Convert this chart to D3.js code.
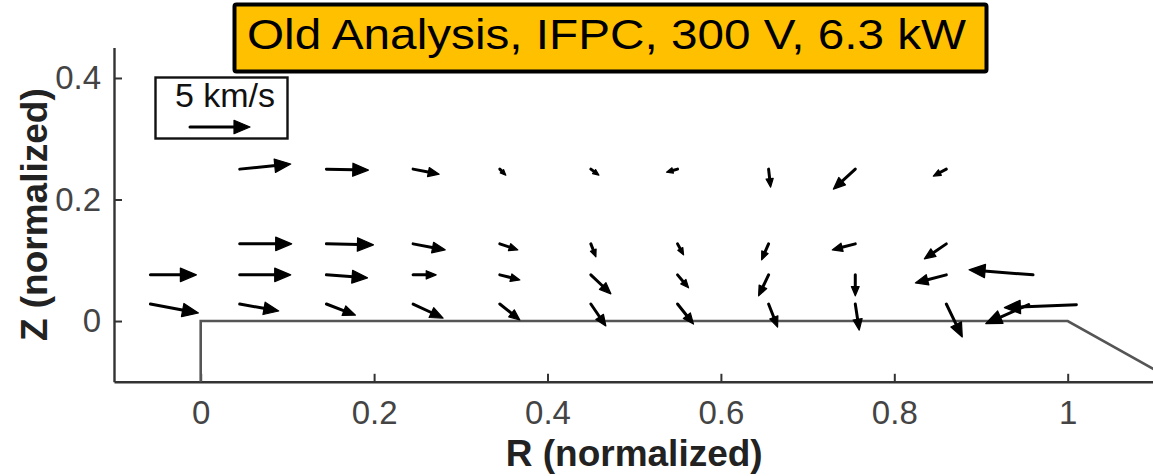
<!DOCTYPE html>
<html>
<head>
<meta charset="utf-8">
<script src="https://cdn.jsdelivr.net/npm/d3@7"></script>
<style>
  body { margin: 0; background: #fff; }
  svg { display: block; font-family: "Liberation Sans", Arial, Helvetica, sans-serif; }
  .tick text { fill: #444; }
</style>
</head>
<body>
<div class="chart"></div>
<script>
// tick values
var rTicks = [0, 0.2, 0.4, 0.6, 0.8, 1];
var zTicks = [0, 0.2, 0.4];

// arrow tails (normalized R, Z) and velocities (km/s)
var arrowR = [
    0.045, 0.145, 0.245, 0.345, 0.45, 0.55, 0.655, 0.755, 0.86,
    0.045, 0.145, 0.245, 0.345, 0.45, 0.55, 0.655, 0.755, 0.86,
    -0.058, 0.045, 0.145, 0.245, 0.345, 0.45, 0.55, 0.655, 0.755, 0.86, 0.96,
    -0.058, 0.045, 0.145, 0.245, 0.345, 0.45, 0.55, 0.655, 0.755, 0.86, 0.955, 1.01
];
var arrowZ = [
    0.25, 0.25, 0.25, 0.25, 0.25, 0.25, 0.25, 0.25, 0.25,
    0.127, 0.127, 0.127, 0.127, 0.127, 0.127, 0.127, 0.127, 0.127,
    0.076, 0.076, 0.076, 0.076, 0.076, 0.076, 0.076, 0.076, 0.076, 0.076, 0.076,
    0.028, 0.028, 0.028, 0.028, 0.028, 0.028, 0.028, 0.028, 0.028, 0.028, 0.027, 0.027
];
var arrowVr = [
    4.25, 3.5, 2.17, 0.5, 0.67, -0.92, 0.17, -1.83, -1.08,
    4.33, 3.92, 2.67, 1.5, 0.42, 0.5, -0.58, -1.92, -1.83,
    3.83, 4.25, 3.42, 1.92, 1.67, 1.67, 0.92, -0.83, 0, -2.58, -5.33,
    4.0, 3.25, 2.42, 2.5, 1.67, 1.25, 1.33, 0.75, 0.33, 1.33, -3.58, -6.0
];
var arrowVz = [
    0.42, -0.08, -0.42, -0.5, -0.5, -0.25, -1.5, -1.67, -0.58,
    0, -0.08, -0.5, -0.5, -1.08, -0.92, -1.33, -0.5, -1.25,
    0, 0, -0.25, 0, -0.42, -1.58, -1.08, -1.75, -1.75, -0.67, 0.42,
    -0.75, -0.58, -0.92, -1.17, -1.33, -1.83, -1.67, -1.92, -2.17, -2.75, -1.58, -0.25
];

// thruster wall outline (R, Z)
var wallR = [0, 0, 1, 1.1];
var wallZ = [-0.1, 0, 0, -0.08];

// reference arrow
var refSpeed = 5;

var width = 1153, height = 476;

var x = d3.scaleLinear().domain([-0.1, 1.1]).range([114, 1154.4]);
var y = d3.scaleLinear().domain([-0.1, 0.45]).range([381.8, 47.6]);
// km/s -> pixels (5 km/s = 60 px)
var v = d3.scaleLinear().domain([0, 5]).range([0, 60]);

var svg = d3.select("div.chart")
    .append("svg")
    .attr("width", width)
    .attr("height", height);

// axes
var xAxis = svg.append("g")
    .attr("transform", "translate(0," + y(-0.1) + ")")
    .call(d3.axisBottom(x).tickValues(rTicks).tickSizeInner(-8).tickSizeOuter(0).tickPadding(19)
        .tickFormat(function (d) { return d3.format("~g")(d); }));
var yAxis = svg.append("g")
    .attr("transform", "translate(" + x(-0.1) + ",0)")
    .call(d3.axisLeft(y).tickValues(zTicks).tickSizeInner(-8).tickSizeOuter(0).tickPadding(13)
        .tickFormat(function (d) { return d3.format("~g")(d); }));

[xAxis, yAxis].forEach(function (a) {
    a.selectAll("path.domain").attr("stroke", "#333").attr("stroke-width", 2.4);
    a.selectAll(".tick line").attr("stroke", "#333").attr("stroke-width", 2);
    a.selectAll(".tick text").style("font-size", "33px").style("font-family", "inherit");
});

svg.append("text")
    .attr("x", (x(-0.1) + x(1.1)) / 2)
    .attr("y", 466)
    .attr("text-anchor", "middle")
    .style("font-size", "37px")
    .style("font-weight", "bold")
    .style("fill", "#222")
    .text("R (normalized)");

svg.append("text")
    .attr("transform", "translate(47," + (y(-0.1) + y(0.45)) / 2 + ") rotate(-90)")
    .attr("text-anchor", "middle")
    .style("font-size", "37px")
    .style("font-weight", "bold")
    .style("fill", "#222")
    .text("Z (normalized)");

// wall outline
var wall = wallR.map(function (r, i) { return [r, wallZ[i]]; });
svg.append("path")
    .attr("d", d3.line().x(function (d) { return x(d[0]); }).y(function (d) { return y(d[1]); })(wall))
    .attr("fill", "none")
    .attr("stroke", "#555")
    .attr("stroke-width", 2.6);

// draw one quiver arrow from (x0,y0) with pixel vector (dx,dy)
function drawArrow(g, x0, y0, dx, dy) {
    var len = Math.sqrt(dx * dx + dy * dy);
    if (len < 0.5) return;
    var ux = dx / len, uy = dy / len;
    var hl = Math.max(5, Math.min(16, 0.3 * len + 3));
    var hw = hl * 0.42;
    var x1 = x0 + dx, y1 = y0 + dy;
    var bx = x1 - ux * hl, by = y1 - uy * hl;
    g.append("line")
        .attr("x1", x0).attr("y1", y0)
        .attr("x2", bx + ux * 1).attr("y2", by + uy * 1)
        .attr("stroke", "#000")
        .attr("stroke-width", 3)
        .attr("stroke-linecap", "round");
    g.append("path")
        .attr("d", "M" + x1 + "," + y1 +
            "L" + (bx - uy * hw) + "," + (by + ux * hw) +
            "L" + (bx + uy * hw) + "," + (by - ux * hw) + "Z")
        .attr("fill", "#000")
        .attr("stroke", "#000")
        .attr("stroke-width", 1.2)
        .attr("stroke-linejoin", "round");
}

var arrows = svg.append("g").attr("class", "arrows");
arrowR.forEach(function (r, i) {
    var dx = (arrowVr[i] < 0 ? -1 : 1) * v(Math.abs(arrowVr[i]));
    var dy = (arrowVz[i] < 0 ? 1 : -1) * v(Math.abs(arrowVz[i]));
    drawArrow(arrows, x(r), y(arrowZ[i]), dx, dy);
});

// reference legend box
var legend = svg.append("g");
legend.append("rect")
    .attr("x", 155.5).attr("y", 77.5)
    .attr("width", 132).attr("height", 61)
    .attr("fill", "#fff")
    .attr("stroke", "#111")
    .attr("stroke-width", 2.4);
legend.append("text")
    .attr("x", 225).attr("y", 107)
    .attr("text-anchor", "middle")
    .style("font-size", "34px")
    .style("fill", "#111")
    .text(refSpeed + " km/s");
drawArrow(legend, 190, 127, v(refSpeed), 0);

// title banner
var title = svg.append("g");
title.append("rect")
    .attr("x", 234.5).attr("y", 4.5)
    .attr("width", 752).attr("height", 67)
    .attr("rx", 2)
    .attr("fill", "#FFC000")
    .attr("stroke", "#000")
    .attr("stroke-width", 4);
title.append("text")
    .attr("x", 247).attr("y", 49)
    .attr("textLength", 719)
    .attr("lengthAdjust", "spacingAndGlyphs")
    .style("font-size", "43px")
    .style("fill", "#000")
    .text("Old Analysis, IFPC, 300 V, 6.3 kW");
</script>
</body>
</html>
